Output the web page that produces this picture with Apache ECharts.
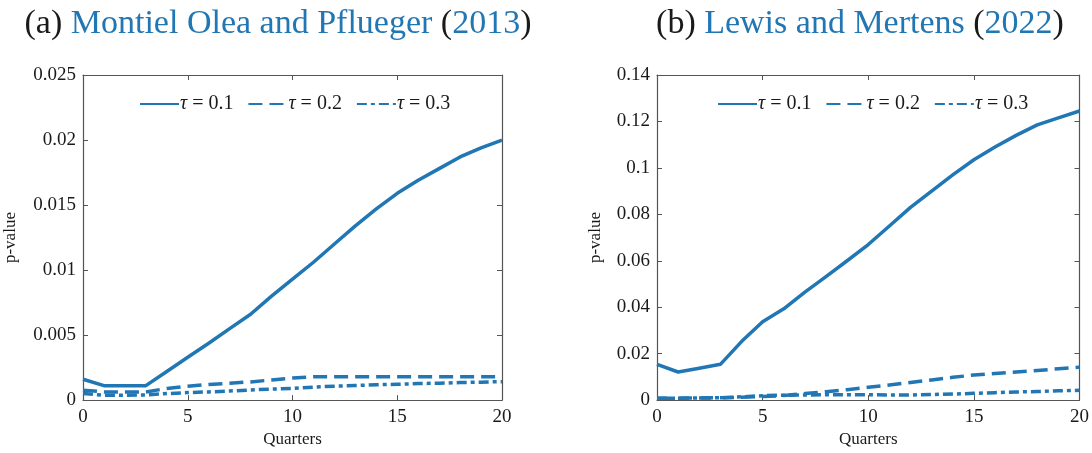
<!DOCTYPE html>
<html>
<head>
<meta charset="utf-8">
<script src="https://cdn.jsdelivr.net/npm/echarts@6/dist/echarts.min.js"></script>
<style>
  html, body { margin: 0; padding: 0; background: #fff; }
  #main { width: 1092px; height: 453px; }
</style>
</head>
<body>
<div id="main"></div>
<script>
// quarters 0..20
var quarters = [0,1,2,3,4,5,6,7,8,9,10,11,12,13,14,15,16,17,18,19,20];

// (a) Montiel Olea and Pflueger (2013)
var mopTau1 = [0.0016,0.00111,0.00111,0.00111,0.0022,0.0033,0.00437,0.0055,0.0066,0.0080,0.0093,0.0106,0.0120,0.0134,0.0147,0.0159,0.0169,0.0178,0.0187,0.0194,0.0200];
var mopTau2 = [0.00076,0.00063,0.00062,0.00062,0.0009,0.00107,0.0012,0.0013,0.0014,0.00155,0.0017,0.0018,0.0018,0.0018,0.0018,0.0018,0.0018,0.0018,0.0018,0.0018,0.0018];
var mopTau3 = [0.0005,0.00038,0.00038,0.0004,0.0005,0.00058,0.00063,0.0007,0.00078,0.00085,0.0009,0.001,0.00107,0.00112,0.00118,0.00122,0.00127,0.0013,0.00135,0.00138,0.00142];

// (b) Lewis and Mertens (2022)
var lmTau1 = [0.0154,0.0121,0.0137,0.0154,0.0252,0.0337,0.0393,0.0465,0.0532,0.0600,0.0670,0.0750,0.0830,0.0900,0.0970,0.1035,0.1090,0.1140,0.1185,0.1215,0.1245];
var lmTau2 = [0.0008,0.0008,0.0009,0.001,0.0012,0.0015,0.002,0.0028,0.0036,0.0045,0.0055,0.0065,0.0076,0.0087,0.0098,0.0108,0.0115,0.0121,0.0127,0.0135,0.0142];
var lmTau3 = [0.0008,0.0008,0.0009,0.001,0.0014,0.0019,0.0021,0.0022,0.0023,0.0023,0.0023,0.0022,0.0022,0.0024,0.0026,0.0029,0.0032,0.0035,0.0037,0.004,0.0042];

var tauNames = ['τ = 0.1', 'τ = 0.2', 'τ = 0.3'];
var dashes = ['solid', [14, 7], [10, 4, 4, 4]];

var blue = '#2176b4';
var black = '#1a1a1a';
var frame = '#555';
var serif = 'Liberation Serif';

function pairs(vals) {
    return quarters.map(function (q, i) { return [q, vals[i]]; });
}

function mkSeries(vals, k, axis) {
    return {
        name: tauNames[k],
        type: 'line',
        xAxisIndex: axis,
        yAxisIndex: axis,
        data: pairs(vals),
        symbol: 'none',
        lineStyle: { color: blue, width: 3.5, type: dashes[k], cap: 'butt', join: 'round' },
        itemStyle: { color: blue },
        z: 3 - k
    };
}

var tick = { show: true, inside: true, length: 5, lineStyle: { color: frame } };
var line = { show: true, onZero: false, lineStyle: { color: frame, width: 1.2 } };

function bottomX(grid) {
    return {
        type: 'value', gridIndex: grid, min: 0, max: 20, interval: 5,
        name: 'Quarters', nameLocation: 'middle', nameGap: 25,
        nameTextStyle: { fontFamily: serif, fontSize: 17, color: black },
        axisLine: line, axisTick: tick,
        axisLabel: { fontFamily: serif, fontSize: 19, color: black, margin: 7 },
        splitLine: { show: false }
    };
}
function topX(grid) {
    return {
        type: 'value', gridIndex: grid, min: 0, max: 20, interval: 5, position: 'top',
        axisLine: line, axisTick: tick,
        axisLabel: { show: false }, splitLine: { show: false }
    };
}
function leftY(grid, max, step, gap) {
    return {
        type: 'value', gridIndex: grid, min: 0, max: max, interval: step,
        name: 'p-value', nameLocation: 'middle', nameGap: gap, nameRotate: 90,
        nameTextStyle: { fontFamily: serif, fontSize: 17, color: black },
        axisLine: line, axisTick: tick,
        axisLabel: { fontFamily: serif, fontSize: 19, color: black, margin: 7 },
        splitLine: { show: false }
    };
}
function rightY(grid, max, step) {
    return {
        type: 'value', gridIndex: grid, min: 0, max: max, interval: step, position: 'right',
        axisLine: line, axisTick: tick,
        axisLabel: { show: false }, splitLine: { show: false }
    };
}

function legendAt(left) {
    return {
        left: left, top: 89,
        data: tauNames,
        itemWidth: 39, itemHeight: 16, itemGap: 14,
        itemStyle: { opacity: 0 },
        formatter: function (name) { return '{t|τ}' + name.slice(1); },
        textStyle: {
            fontFamily: serif, fontSize: 20, color: black, padding: [0, 0, 0, -4],
            rich: { t: { fontFamily: serif, fontStyle: 'italic', fontSize: 20, color: black } }
        }
    };
}

var titleRich = {
    k: { fontFamily: serif, fontSize: 34, fontWeight: 'normal', color: black },
    b: { fontFamily: serif, fontSize: 34, fontWeight: 'normal', color: blue }
};

var chart = echarts.init(document.getElementById('main'));
chart.setOption({
    animation: false,
    title: [
        { text: '{k|(a) }{b|Montiel Olea and Pflueger}{k| (}{b|2013}{k|)}', left: 273, top: 2, textAlign: 'center',
          textStyle: { fontWeight: 'normal', rich: titleRich } },
        { text: '{k|(b) }{b|Lewis and Mertens}{k| (}{b|2022}{k|)}', left: 855, top: 2, textAlign: 'center',
          textStyle: { fontWeight: 'normal', rich: titleRich } }
    ],
    legend: [legendAt(134), legendAt(712)],
    grid: [
        { left: 83, right: 590, top: 75, bottom: 50 },
        { left: 657, right: 9, top: 75, bottom: 50 }
    ],
    xAxis: [bottomX(0), topX(0), bottomX(1), topX(1)],
    yAxis: [leftY(0, 0.025, 0.005, 64), rightY(0, 0.025, 0.005), leftY(1, 0.14, 0.02, 53), rightY(1, 0.14, 0.02)],
    series: [
        mkSeries(mopTau1, 0, 0), mkSeries(mopTau2, 1, 0), mkSeries(mopTau3, 2, 0),
        mkSeries(lmTau1, 0, 2), mkSeries(lmTau2, 1, 2), mkSeries(lmTau3, 2, 2)
    ]
});
</script>
</body>
</html>
